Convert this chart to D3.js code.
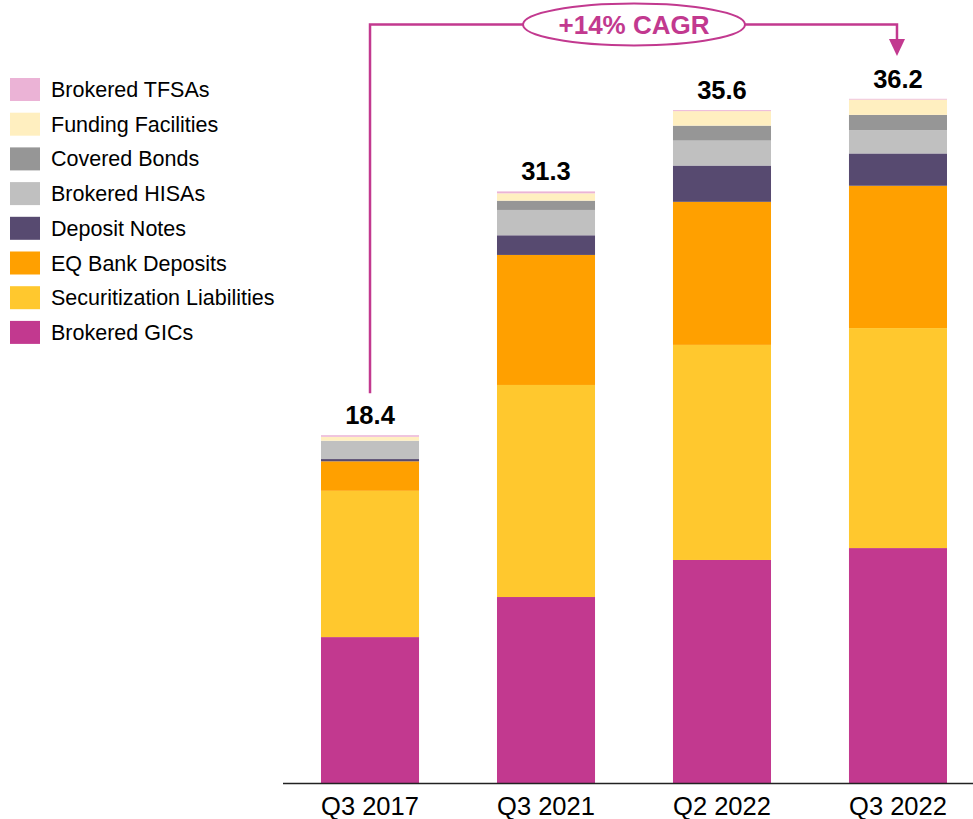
<!DOCTYPE html>
<html>
<head>
<meta charset="utf-8">
<script src="https://cdn.jsdelivr.net/npm/d3@7"></script>
<style>
  html, body { margin: 0; padding: 0; background: #fff; }
  svg { display: block; font-family: Arial, "Liberation Sans", sans-serif; }
</style>
</head>
<body>
<svg id="chart" width="973" height="819"></svg>
<script>
// ---- Data ----
const categories = ["Q3 2017", "Q3 2021", "Q2 2022", "Q3 2022"];
const totals = [18.4, 31.3, 35.6, 36.2];
const seriesNames = ["Brokered GICs", "Securitization Liabilities", "EQ Bank Deposits", "Deposit Notes",
                     "Brokered HISAs", "Covered Bonds", "Funding Facilities", "Brokered TFSAs"];
const brokeredGICs      = [7.72, 9.84, 11.80, 12.43];
const securitization    = [7.74, 11.22, 11.38, 11.64];
const eqBankDeposits    = [1.56, 6.88, 7.57, 7.53];
const depositNotes      = [0.12, 1.04, 1.92, 1.71];
const brokeredHISAs     = [0.97, 1.34, 1.32, 1.23];
const coveredBonds      = [0.00, 0.49, 0.79, 0.81];
const fundingFacilities = [0.21, 0.39, 0.77, 0.81];
const brokeredTFSAs     = [0.08, 0.10, 0.05, 0.04];
const seriesColors = ["#C2398F", "#FFC82E", "#FFA000", "#574A70", "#C0C0C0", "#969696", "#FFEFC0", "#EBB3D6"];
const cagrLabel = "+14% CAGR";

const seriesValues = [brokeredGICs, securitization, eqBankDeposits, depositNotes,
                      brokeredHISAs, coveredBonds, fundingFacilities, brokeredTFSAs];

const table = categories.map((c, i) => {
  const row = { cat: c };
  seriesNames.forEach((s, j) => row[s] = seriesValues[j][i]);
  return row;
});

const svg = d3.select("#chart");

const x = d3.scaleBand().domain(categories).range([321, 947]).paddingInner(0.443).paddingOuter(0);
const y = d3.scaleLinear().domain([0, 40]).range([783, 27]);
const color = d3.scaleOrdinal().domain(seriesNames).range(seriesColors);

const stack = d3.stack().keys(seriesNames);
const stacked = stack(table);

// bars
svg.append("g").selectAll("g")
  .data(stacked).join("g")
  .attr("fill", d => color(d.key))
  .selectAll("rect")
  .data(d => d).join("rect")
  .attr("x", d => x(d.data.cat))
  .attr("width", x.bandwidth())
  .attr("y", d => y(d[1]))
  .attr("height", d => Math.max(0, y(d[0]) - y(d[1])));

// axis
const axisG = svg.append("g").attr("transform", `translate(0,${y(0)})`)
  .call(d3.axisBottom(x).tickSize(0).tickPadding(14));
axisG.select(".domain").remove();
axisG.selectAll("text").attr("font-size", 25.5).attr("fill", "#000")
  .attr("font-family", "Arial, 'Liberation Sans', sans-serif");
svg.append("line").attr("x1", 283).attr("x2", 973)
  .attr("y1", y(0) + 0.5).attr("y2", y(0) + 0.5)
  .attr("stroke", "#222").attr("stroke-width", 1.5);

// totals
svg.append("g").selectAll("text")
  .data(categories).join("text")
  .attr("x", d => x(d) + x.bandwidth() / 2)
  .attr("y", (d, i) => y(totals[i]) - 11)
  .attr("text-anchor", "middle")
  .attr("font-size", 25.5).attr("font-weight", "bold").attr("fill", "#000")
  .text((d, i) => totals[i].toFixed(1));

// legend (top = last series)
const legendOrder = seriesNames.slice().reverse();
const lg = svg.append("g").selectAll("g").data(legendOrder).join("g")
  .attr("transform", (d, i) => `translate(10, ${78 + i * 34.7})`);
lg.append("rect").attr("width", 30).attr("height", 23).attr("fill", d => color(d));
lg.append("text").attr("x", 41).attr("y", 19).attr("font-size", 21.5).attr("fill", "#000").text(d => d);

// CAGR annotation
const mag = "#C2398F";
const x0 = x(categories[0]) + x.bandwidth() / 2;
const x1 = x(categories[3]) + x.bandwidth() / 2 - 1;
const lineY = 24.5;
const ex = 634, erx = 111, ery = 21;
const ann = svg.append("g");
ann.append("path")
  .attr("d", `M${x0},${y(totals[0]) - 42} V${lineY} H${ex - erx}`)
  .attr("fill", "none").attr("stroke", mag).attr("stroke-width", 2.5);
ann.append("path")
  .attr("d", `M${ex + erx},${lineY} H${x1} V${41}`)
  .attr("fill", "none").attr("stroke", mag).attr("stroke-width", 2.5);
ann.append("path")
  .attr("d", `M${x1 - 8},39 L${x1 + 8},39 L${x1},56 Z`)
  .attr("fill", mag);
ann.append("ellipse").attr("cx", ex).attr("cy", lineY).attr("rx", erx).attr("ry", ery)
  .attr("fill", "#fff").attr("stroke", mag).attr("stroke-width", 2);
ann.append("text").attr("x", ex).attr("y", 33.5).attr("text-anchor", "middle")
  .attr("font-size", 26).attr("font-weight", "bold").attr("fill", mag).text(cagrLabel);
</script>
</body>
</html>
